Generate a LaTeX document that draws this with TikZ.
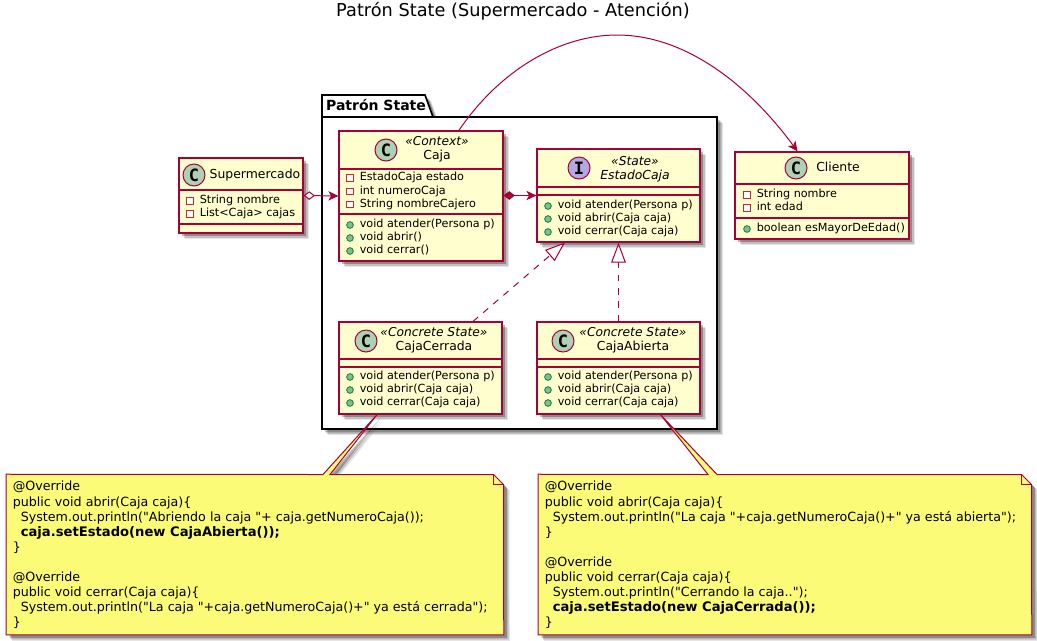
\documentclass[tikz,border=0pt]{standalone}
\usepackage{fontspec}
\setmainfont{DejaVu Sans}
\setmonofont{DejaVu Sans Mono}
\newfontfamily\plainfont{DejaVu Sans}
\usepackage{tikz}
\usetikzlibrary{arrows.meta, shadows}
\definecolor{umlred}{HTML}{A80036}
\definecolor{umlfill}{HTML}{FEFECE}
\definecolor{notefill}{HTML}{FBFB77}
\definecolor{spotc}{HTML}{ADD1B2}
\definecolor{spoti}{HTML}{B4A7E5}
\definecolor{pubfill}{HTML}{84BE84}
\definecolor{publine}{HTML}{038048}
\definecolor{privline}{HTML}{C82930}
\tikzset{
  softshadow/.style={drop shadow={shadow xshift=4.5pt, shadow yshift=-4.5pt, fill=black, opacity=.1}, drop shadow={shadow xshift=3.6pt, shadow yshift=-3.6pt, fill=black, opacity=.16}, drop shadow={shadow xshift=2.6pt, shadow yshift=-2.6pt, fill=black, opacity=.28}},
  classbox/.style={draw=umlred, fill=umlfill, line width=.9pt, inner sep=0pt, softshadow},
  sepline/.style={draw=umlred, line width=.9pt},
  spot/.style={circle, draw=umlred, line width=.75pt, minimum size=16.5pt, inner sep=0pt, font=\fontsize{12.75}{12.75}\ttfamily\bfseries},
  pubmark/.style={circle, draw=publine, fill=pubfill, line width=.6pt, minimum size=5pt, inner sep=0pt},
  privmark/.style={rectangle, draw=privline, fill=white, line width=.6pt, minimum size=4.8pt, inner sep=0pt},
  memtext/.style={anchor=west, inner sep=0pt, text height=6pt, text depth=2pt, font=\fontsize{8.4}{10}\selectfont},
  stereo/.style={inner sep=0pt, text height=7pt, text depth=2pt, font=\fontsize{9.2}{11}\itshape},
  classname/.style={inner sep=0pt, text height=8pt, text depth=2.5pt, font=\fontsize{9.3}{12}\selectfont},
  notetext/.style={anchor=north west, inner sep=0pt, align=left, font=\fontsize{9.5}{11.33}\plainfont},
  notebody/.style={draw=umlred, fill=notefill, line width=.75pt, softshadow},
  link/.style={draw=umlred, line width=.75pt},
}
\begin{document}
\begin{tikzpicture}[x=.75pt, y=-.75pt]
  \useasboundingbox (0,0) rectangle (1037,640);
  \node[font=\fontsize{13.3}{16}\selectfont, inner sep=0pt] (title) at (513,11) {Patrón State (Supermercado - Atención)};
  % package
  \filldraw[draw=black, fill=white, line width=1.25pt, softshadow] (322,117) -- (322,95) -- (425,95) -- (433,117) -- (717,117) -- (717,429) -- (322,429) -- cycle;
  \draw[black, line width=1.25pt] (322,117) -- (433,117);
  \node[font=\fontsize{10.5}{12}\bfseries, inner sep=0pt] (pkglabel) at (376,105) {Patrón State};
  % classes
  \node[classbox, minimum width=93pt, minimum height=56.25pt] (super) at (241,195.5) {};
  \node[classbox, minimum width=123pt, minimum height=97.5pt] (caja) at (421,196) {};
  \node[classbox, minimum width=122.25pt, minimum height=69.75pt] (estado) at (618.5,195.5) {};
  \node[classbox, minimum width=130.5pt, minimum height=65.25pt] (cliente) at (822,195.5) {};
  \node[classbox, minimum width=122.25pt, minimum height=69pt] (cerrada) at (420.5,368) {};
  \node[classbox, minimum width=122.25pt, minimum height=69pt] (abierta) at (618.5,368) {};
  \foreach \n/\y in {super/190, super/224, caja/169, caja/214, estado/187, estado/195, cliente/184, cliente/218, cerrada/359, cerrada/367, abierta/359, abierta/367}
    \draw[sepline] (\n.west |- 0,\y) -- (\n.east |- 0,\y);
  % headers
  \node[spot, fill=spotc] (superspot) at (194,175) {C};
  \node[classname] (supername) at (255,175) {Supermercado};
  \node[spot, fill=spotc] (cajaspot) at (386,150) {C};
  \node[stereo] (cajastereo) at (437,142) {«Context»};
  \node[classname] (cajaname) at (437,156) {Caja};
  \node[spot, fill=spoti] (estadospot) at (579,168) {I};
  \node[stereo] (estadostereo) at (635,162) {«State»};
  \node[classname, font=\fontsize{9.3}{12}\itshape] (estadoname) at (635,176) {EstadoCaja};
  \node[spot, fill=spotc] (clientespot) at (796,168) {C};
  \node[classname] (clientename) at (838,168) {Cliente};
  \node[spot, fill=spotc] (cerradaspot) at (366,341) {C};
  \node[stereo] (cerradastereo) at (434,333) {«Concrete State»};
  \node[classname] (cerradaname) at (434,347) {CajaCerrada};
  \node[spot, fill=spotc] (abiertaspot) at (563,341) {C};
  \node[stereo] (abiertastereo) at (633,333) {«Concrete State»};
  \node[classname] (abiertaname) at (633,347) {CajaAbierta};
  % members
  \foreach \n/\x/\y/\k/\t [count=\i] in {
    super/190/201/privmark/String nombre, super/190/214/privmark/List<Caja> cajas,
    caja/350/178/privmark/EstadoCaja estado, caja/350/191.5/privmark/int numeroCaja, caja/350/204.5/privmark/String nombreCajero,
    caja/350/225/pubmark/void atender(Persona p), caja/350/238/pubmark/void abrir(), caja/350/251/pubmark/void cerrar(),
    estado/548/206/pubmark/void atender(Persona p), estado/548/219/pubmark/void abrir(Caja caja), estado/548/232/pubmark/void cerrar(Caja caja),
    cliente/747/195/privmark/String nombre, cliente/747/208/privmark/int edad, cliente/747/229/pubmark/boolean esMayorDeEdad(),
    cerrada/350/377/pubmark/void atender(Persona p), cerrada/350/390/pubmark/void abrir(Caja caja), cerrada/350/403/pubmark/void cerrar(Caja caja),
    abierta/548/377/pubmark/void atender(Persona p), abierta/548/390/pubmark/void abrir(Caja caja), abierta/548/403/pubmark/void cerrar(Caja caja)} {
    \node[\k] (\n mark\i) at (\x,\y) {};
    \node[memtext] (\n text\i) at (\x+9.5,\y) {\t};
  }
  % connectors
  \draw[link, {Diamond[fill=white, length=8.5pt, width=6.5pt]}-{Stealth[length=7.5pt, width=7pt, inset=2pt]}] (super.east) -- (caja.west);
  \draw[link, {Diamond[length=8.5pt, width=6.5pt]}-{Stealth[length=7.5pt, width=7pt, inset=2pt]}] (caja.east |- estado.west) -- (estado.west);
  \draw[link, -{Stealth[length=7.5pt, width=7pt, inset=2pt]}] (caja.60) .. controls (500,70) and (560,35) .. (617,35) .. controls (682,35) and (745,80) .. (cliente.119);
  \draw[link, dash pattern=on 5pt off 5pt, -{Triangle[fill=white, length=15pt, width=11pt]}] (cerrada.north -| 473,0) -- (565,242.5);
  \draw[link, dash pattern=on 5pt off 5pt, -{Triangle[fill=white, length=15pt, width=11pt]}] (abierta.north) -- (estado.south);
  % notes
  \node[minimum width=372.75pt, minimum height=120pt, inner sep=0pt] (notecerrada) at (255,554.5) {};
  \node[minimum width=369.75pt, minimum height=120pt, inner sep=0pt] (noteabierta) at (785,554.5) {};
  \path[notebody] (notecerrada.north west) -- (323,474.5) -- (cerrada.227) -- (330,474.5) -- (493.5,474.5) -- (503.5,484.5) -- (notecerrada.south east) -- (notecerrada.south west) -- cycle;
  \draw[umlred, line width=.75pt] (493.5,474.5) -- (493.5,484.5) -- (503.5,484.5);
  \path[notebody] (noteabierta.north west) -- (708,474.5) -- (abierta.-48) -- (717,474.5) -- (1021.5,474.5) -- (1031.5,484.5) -- (noteabierta.south east) -- (noteabierta.south west) -- cycle;
  \draw[umlred, line width=.75pt] (1021.5,474.5) -- (1021.5,484.5) -- (1031.5,484.5);
  \node[notetext] (notecerradatext) at (12.5,481) {@Override\\public void abrir(Caja caja)\{\\~~System.out.println("Abriendo la caja "+ caja.getNumeroCaja());\\~~{\fontsize{9.85}{11.33}\bfseries caja.setEstado(new CajaAbierta());}\\\}\\[11.33pt]@Override\\public void cerrar(Caja caja)\{\\~~System.out.println("La caja "+caja.getNumeroCaja()+" ya está cerrada");\\\}};
  \node[notetext] (noteabiertatext) at (544.5,481) {@Override\\public void abrir(Caja caja)\{\\~~System.out.println("La caja "+caja.getNumeroCaja()+" ya está abierta");\\\}\\[11.33pt]@Override\\public void cerrar(Caja caja)\{\\~~System.out.println("Cerrando la caja..");\\~~{\fontsize{9.85}{11.33}\bfseries caja.setEstado(new CajaCerrada());}\\\}};
\end{tikzpicture}
\end{document}
